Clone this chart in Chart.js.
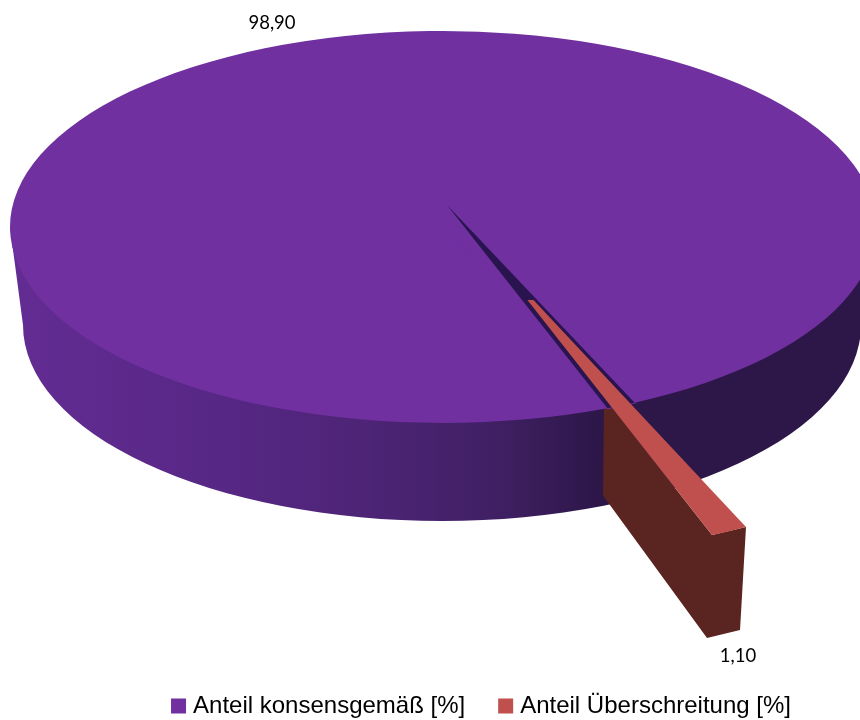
<!DOCTYPE html>
<html><head><meta charset="utf-8">
<style>html,body{margin:0;padding:0;background:#fff}canvas{display:block}</style>
<script src="https://cdn.jsdelivr.net/npm/chart.js@4/dist/chart.umd.min.js"></script>
</head><body>
<canvas id="c" width="860" height="720"></canvas>
<script>
const categories = ['Anteil konsensgemäß [%]', 'Anteil Überschreitung [%]'];
const values = [98.9, 1.1];
const colors = ['#7030A0', '#C0504D'];

const face = {cx: 443, cy: 227, rx: 433, ry: 196};
const floor = {cx: 442, cy: 325, rx: 419, ry: 196};
const apex = {x: 447, y: 205};
const red = {apex: [496, 260], start: [746, 527], end: [712, 535], clipY: 300};
const facePt = a => [face.cx + face.rx * Math.cos(a), face.cy + face.ry * Math.sin(a)];

function poly(ctx, pts, fill, stroke) {
  ctx.beginPath();
  pts.forEach((p, i) => i ? ctx.lineTo(p[0], p[1]) : ctx.moveTo(p[0], p[1]));
  ctx.closePath();
  ctx.fillStyle = fill;
  ctx.fill();
  if (stroke) {
    ctx.strokeStyle = fill;
    ctx.lineWidth = stroke;
    ctx.stroke();
  }
}

const pie3d = {
  id: 'pie3d',
  beforeDatasetsDraw(chart) {
    const ctx = chart.ctx;
    const arcs = chart.getDatasetMeta(0).data;
    const [main, part] = arcs;
    const R = main.outerRadius;

    // outer wall of the large slice
    const g = ctx.createLinearGradient(10, 0, 860, 0);
    g.addColorStop(0, '#632c93');
    g.addColorStop(0.22, '#582887');
    g.addColorStop(0.42, '#4d2476');
    g.addColorStop(0.58, '#3f1f62');
    g.addColorStop(0.69, '#2d1749');
    g.addColorStop(1, '#2d1749');
    ctx.save();
    ctx.beginPath();
    ctx.moveTo(face.cx - face.rx, face.cy);
    ctx.lineTo(floor.cx - floor.rx, floor.cy);
    ctx.ellipse(floor.cx, floor.cy, floor.rx, floor.ry, 0, Math.PI, 0, true);
    ctx.lineTo(face.cx + face.rx, face.cy);
    ctx.closePath();
    ctx.fillStyle = g;
    ctx.fill();
    ctx.restore();

    // sides of the small slice, from its mapped rim
    const rimL = red.end, rimR = red.start;
    const t = 0.5;
    const mid = [red.apex[0] + (rimL[0] - red.apex[0]) * t, red.apex[1] + (rimL[1] - red.apex[1]) * t];
    poly(ctx, [mid, [mid[0] - 1, mid[1] + 98], [rimL[0] - 5, rimL[1] + 103], [rimR[0] - 6, rimR[1] + 103], rimR, rimL], '#5a2420');

    // top face of the large slice
    ctx.save();
    ctx.translate(face.cx, face.cy);
    ctx.scale(face.rx / R, face.ry / R);
    ctx.translate(-main.x, -main.y);
    main.draw(ctx);
    ctx.restore();

    // notch left by the pulled-out slice
    const p1 = facePt(part.startAngle), p2 = facePt(part.endAngle);
    poly(ctx, [[face.cx, face.cy], p1, p2], colors[0], 1.5);
    poly(ctx, [[apex.x, apex.y], p1, p2], '#2a1450');

    // top face of the small slice
    const v1 = [R * Math.cos(part.startAngle), R * Math.sin(part.startAngle)];
    const v2 = [R * Math.cos(part.endAngle), R * Math.sin(part.endAngle)];
    const det = v1[0] * v2[1] - v2[0] * v1[1];
    const t1 = [red.start[0] - red.apex[0], red.start[1] - red.apex[1]];
    const t2 = [red.end[0] - red.apex[0], red.end[1] - red.apex[1]];
    const a = (t1[0] * v2[1] - t2[0] * v1[1]) / det;
    const c = (t2[0] * v1[0] - t1[0] * v2[0]) / det;
    const b = (t1[1] * v2[1] - t2[1] * v1[1]) / det;
    const d = (t2[1] * v1[0] - t1[1] * v2[0]) / det;
    ctx.save();
    ctx.beginPath();
    ctx.rect(0, red.clipY, chart.width, chart.height - red.clipY);
    ctx.clip();
    ctx.transform(a, b, c, d, red.apex[0], red.apex[1]);
    ctx.translate(-part.x, -part.y);
    part.draw(ctx);
    ctx.restore();

    // value labels
    ctx.save();
    ctx.font = '18.5px Lato';
    ctx.fillStyle = '#000';
    ctx.textAlign = 'center';
    ctx.textBaseline = 'middle';
    const fmt = v => v.toFixed(2).replace('.', ',');
    ctx.fillText(fmt(values[0]), 272, 23);
    ctx.fillText(fmt(values[1]), 738, 656);
    ctx.restore();
    return false;
  }
};

new Chart(document.getElementById('c'), {
  type: 'pie',
  data: {
    labels: categories,
    datasets: [{
      data: values,
      backgroundColor: colors,
      borderWidth: 0,
      clip: false,
      rotation: 157.68
    }]
  },
  plugins: [pie3d],
  options: {
    responsive: false,
    animation: false,
    events: [],
    layout: {padding: {left: 107, right: 0, top: 0, bottom: -8}},
    plugins: {
      tooltip: {enabled: false},
      legend: {
        position: 'bottom',
        labels: {
          boxWidth: 5,
          boxHeight: 5,
          padding: 38,
          color: '#000',
          font: {family: '"Liberation Sans"', size: 24},
          generateLabels: () => categories.map((text, i) => ({
            text, fillStyle: colors[i], strokeStyle: colors[i], lineWidth: 10, index: i, hidden: false
          }))
        }
      }
    }
  }
});
</script>
</body></html>
